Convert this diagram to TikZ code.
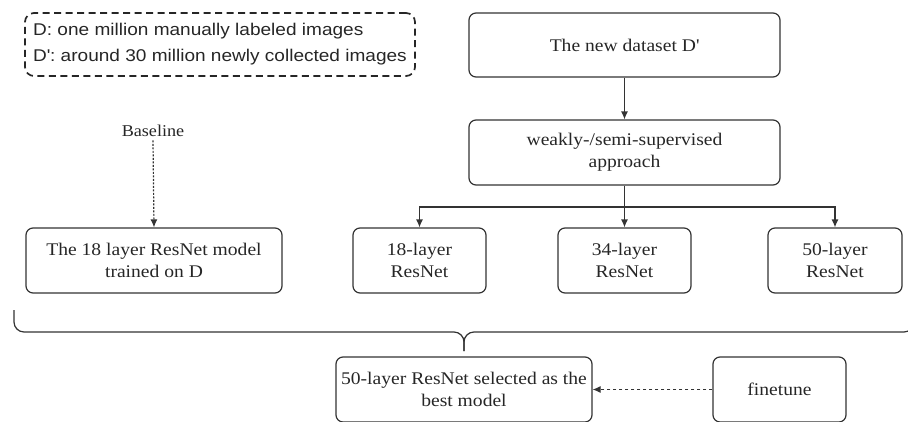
\documentclass[tikz,border=0pt]{standalone}
\usepackage{fontspec}
\setmainfont{Liberation Serif}[FakeStretch=1.1]
\newfontfamily\legendfont{Liberation Sans}[FakeStretch=1.12]
\usepackage{xcolor}
\usepackage{tikz}
\usetikzlibrary{shapes,arrows.meta}
\definecolor{edgegray}{gray}{0.2}
\tikzstyle{block} = [rectangle, draw=edgegray, rounded corners=7pt, line width=1.2pt, text=black!85, align=center, inner sep=0pt, font=\fontsize{17.8}{22}\selectfont]
\tikzstyle{line} = [draw=edgegray, line width=1.2pt, -{Latex[length=8pt,width=7pt]}]
\tikzstyle{dline} = [line, dash pattern=on 3.5pt off 2.5pt]

\begin{document}
\begin{tikzpicture}[x=1pt,y=-1pt]
\useasboundingbox (0,0) rectangle (908,421);
\clip (0,0) rectangle (908,421);
\node [block, draw=black!85, line width=1.7pt, dash pattern=on 7pt off 4.5pt, rounded corners=9pt, minimum width=390, minimum height=63, align=left, font=\legendfont\fontsize{17}{26}\selectfont] (legend) at (220,44.5) {D: one million manually labeled images\\D\textquotesingle: around 30 million newly collected images};
\node [block, minimum width=311, minimum height=64] (dataset) at (624.5,45) {The new dataset D\textquotesingle};
\node [block, minimum width=311, minimum height=65] (approach) at (624.5,152.5) {weakly-/semi-supervised\\approach};
\node [text=black!85, font=\fontsize{16.5}{20}\selectfont] (baseline) at (153,131) {Baseline};
\node [block, minimum width=256, minimum height=65] (base) at (154,260.5) {The 18 layer ResNet model\\trained on D};
\node [block, minimum width=133, minimum height=65] (r18) at (419.5,260.5) {18-layer\\ResNet};
\node [block, minimum width=133, minimum height=65] (r34) at (624.5,260.5) {34-layer\\ResNet};
\node [block, minimum width=134, minimum height=65] (r50) at (835,260.5) {50-layer\\ResNet};
\node [block, minimum width=256, minimum height=65] (best) at (464,389.5) {50-layer ResNet selected as the\\best model};
\node [block, minimum width=133, minimum height=65] (finetune) at (779.5,389.5) {finetune};
\coordinate (split) at (624.5,207);
\path [line] (dataset.south) -- (approach.north);
\path [line] (approach.south) -- (r34.north);
\path [line] (split) -| (r18.north);
\path [line] (split) -| (r50.north);
\path [line, dash pattern=on 2pt off 1.5pt] (baseline.south) -- (base.north);
\path [dline] (finetune.west) -- (best.east);
% brace over the four models
\draw [edgegray, line width=1.2pt, rounded corners=10pt] (14,310) |- (464,332) -- (464,351);
\draw [edgegray, line width=1.2pt, rounded corners=10pt] (464,351) -- (464,332) -| (914,310);
\end{tikzpicture}
\end{document}
